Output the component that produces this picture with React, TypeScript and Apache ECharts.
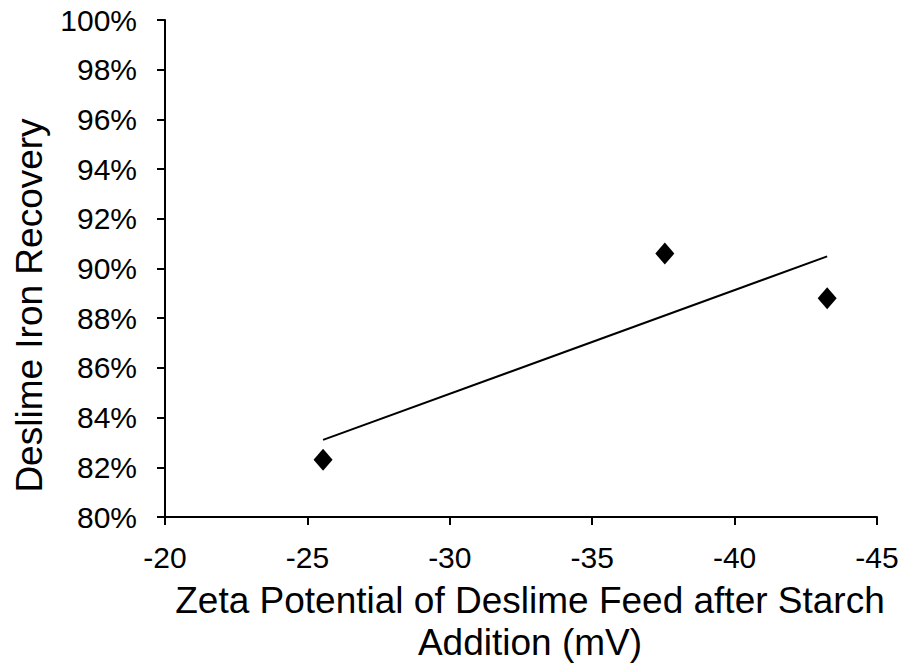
import React, { useEffect, useRef } from "react";
import * as echarts from "echarts";

const zetaPotential = [-25.55, -37.55, -43.25];
const ironRecovery = [82.3, 90.6, 88.8];
const xTicks = { min: -45, max: -20, step: 5 };
const yTicks = { min: 80, max: 100, step: 2 };

function linearFit(xs: number[], ys: number[]) {
  const n = xs.length;
  const mx = xs.reduce((a, b) => a + b, 0) / n;
  const my = ys.reduce((a, b) => a + b, 0) / n;
  let sxy = 0, sxx = 0;
  for (let i = 0; i < n; i++) {
    sxy += (xs[i] - mx) * (ys[i] - my);
    sxx += (xs[i] - mx) * (xs[i] - mx);
  }
  const slope = sxy / sxx;
  return (x: number) => my + slope * (x - mx);
}

export default function App() {
  const ref = useRef<HTMLDivElement>(null);
  useEffect(() => {
    if (!ref.current) return;
    const chart = echarts.init(ref.current, undefined, { renderer: "svg" });
    const fit = linearFit(zetaPotential, ironRecovery);
    const xMin = Math.max(...zetaPotential);
    const xMax = Math.min(...zetaPotential);
    const font = "'Liberation Sans', Arial, sans-serif";
    chart.setOption({
      animation: false,
      grid: { left: 165, right: 25, top: 20, bottom: 149, containLabel: false, outerBoundsMode: "none" },
      xAxis: {
        type: "value",
        inverse: true,
        min: xTicks.min,
        max: xTicks.max,
        interval: xTicks.step,
        name: "Zeta Potential of Deslime Feed after Starch\nAddition (mV)",
        nameLocation: "middle",
        nameGap: 62,
        nameTextStyle: { color: "#000", fontSize: 37, fontFamily: font, lineHeight: 42, padding: [0, 0, 0, 18] },
        axisLine: { lineStyle: { color: "#000", width: 2 } },
        axisTick: { show: true, length: 8, lineStyle: { color: "#000", width: 2 } },
        axisLabel: { color: "#000", fontSize: 30, fontFamily: font, margin: 25 },
        splitLine: { show: false },
      },
      yAxis: {
        type: "value",
        min: yTicks.min,
        max: yTicks.max,
        interval: yTicks.step,
        name: "Deslime Iron Recovery",
        nameLocation: "middle",
        nameGap: 117,
        nameTextStyle: { color: "#000", fontSize: 37, fontFamily: font, padding: [0, 74, 0, 0] },
        axisLine: { show: true, lineStyle: { color: "#000", width: 2 } },
        axisTick: { show: true, length: 8, lineStyle: { color: "#000", width: 2 } },
        axisLabel: { color: "#000", fontSize: 30, fontFamily: font, margin: 28, formatter: (v: number) => `${v}%` },
        splitLine: { show: false },
      },
      series: [
        {
          type: "line",
          data: [[xMin, fit(xMin)], [xMax, fit(xMax)]],
          showSymbol: false,
          symbol: "none",
          lineStyle: { color: "#000", width: 2 },
          z: 2,
        },
        {
          type: "scatter",
          data: zetaPotential.map((x, i) => [x, ironRecovery[i]]),
          symbol: "diamond",
          symbolSize: [19, 22],
          itemStyle: { color: "#000", opacity: 1 },
          z: 3,
        },
      ],
    });
    return () => chart.dispose();
  }, []);
  return <div ref={ref} style={{ width: 902, height: 666, position: "absolute", left: 0, top: 0, background: "#fff" }} />;
}
